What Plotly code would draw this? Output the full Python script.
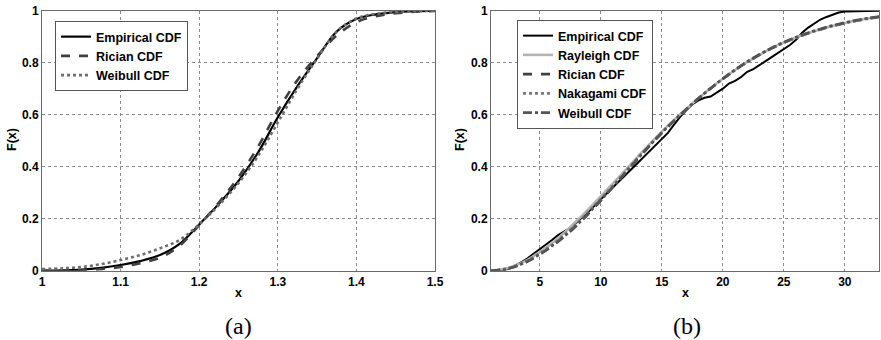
import plotly.graph_objects as go

# ---------------- data: panel (a) ----------------
xa = [1.000, 1.025, 1.050, 1.075, 1.100, 1.125, 1.150, 1.175, 1.200, 1.225, 1.250,
      1.275, 1.300, 1.325, 1.350, 1.375, 1.400, 1.425, 1.450, 1.475, 1.500]
a_empirical = [0.000, 0.001, 0.004, 0.011, 0.022, 0.037, 0.060, 0.103, 0.178, 0.257, 0.345,
               0.455, 0.590, 0.710, 0.818, 0.920, 0.968, 0.986, 0.994, 0.998, 1.000]
a_rician = [0.000, 0.000, 0.002, 0.006, 0.014, 0.029, 0.050, 0.096, 0.175, 0.262, 0.360,
            0.478, 0.615, 0.733, 0.825, 0.905, 0.956, 0.979, 0.990, 0.996, 0.999]
a_weibull = [0.006, 0.009, 0.014, 0.025, 0.041, 0.060, 0.086, 0.118, 0.178, 0.252, 0.337,
             0.442, 0.570, 0.700, 0.815, 0.920, 0.970, 0.988, 0.995, 0.998, 1.000]

# ---------------- data: panel (b) ----------------
xb_emp = [1.0, 1.5, 2.0, 2.5, 3.0, 3.5, 4.0, 4.5, 5.0, 5.5, 6.0, 6.5, 7.0, 7.5, 8.0,
          9.0, 10.0, 11.0, 12.0, 13.0, 14.0, 15.0, 15.5, 16.0, 16.5, 17.0, 17.5, 18.0,
          18.5, 19.0, 19.5, 20.0, 20.5, 21.0, 21.5, 22.0, 22.5, 23.0, 23.5, 24.0, 24.5,
          25.0, 25.5, 26.0, 26.5, 27.0, 27.5, 28.0, 28.5, 29.0, 29.5, 30.0, 31.0, 33.0]
b_empirical = [0.000, 0.000, 0.002, 0.008, 0.020, 0.033, 0.048, 0.065, 0.085, 0.100,
               0.118, 0.137, 0.152, 0.165, 0.185, 0.228, 0.275, 0.320, 0.367, 0.413,
               0.460, 0.508, 0.530, 0.562, 0.592, 0.617, 0.640, 0.655, 0.665, 0.670,
               0.685, 0.700, 0.720, 0.730, 0.745, 0.765, 0.775, 0.790, 0.805, 0.822,
               0.835, 0.850, 0.868, 0.888, 0.915, 0.935, 0.952, 0.966, 0.976, 0.985,
               0.993, 0.997, 0.999, 1.000]

xb_fit = [1, 2, 3, 4, 5, 6, 7, 8, 9, 10, 11, 12, 13, 14, 15, 16, 17, 18, 19, 20, 21,
          22, 23, 24, 25, 26, 27, 28, 29, 30, 31, 32, 33]
b_rayleigh = [0.000, 0.006, 0.020, 0.042, 0.072, 0.106, 0.146, 0.190, 0.237, 0.286,
              0.336, 0.386, 0.437, 0.487, 0.535, 0.580, 0.622, 0.663, 0.702, 0.738,
              0.772, 0.803, 0.830, 0.856, 0.878, 0.897, 0.914, 0.929, 0.942, 0.953,
              0.963, 0.971, 0.978]
b_rician = [0.000, 0.004, 0.016, 0.036, 0.063, 0.094, 0.131, 0.173, 0.220, 0.270,
            0.322, 0.375, 0.428, 0.480, 0.529, 0.576, 0.620, 0.662, 0.701, 0.737,
            0.771, 0.802, 0.830, 0.855, 0.877, 0.896, 0.913, 0.928, 0.941, 0.952,
            0.962, 0.970, 0.977]
b_nakagami = [0.000, 0.005, 0.018, 0.039, 0.067, 0.099, 0.138, 0.180, 0.227, 0.277,
              0.328, 0.380, 0.432, 0.483, 0.532, 0.578, 0.621, 0.662, 0.701, 0.737,
              0.771, 0.802, 0.830, 0.855, 0.877, 0.896, 0.913, 0.928, 0.941, 0.952,
              0.962, 0.970, 0.977]
b_weibull = [0.000, 0.004, 0.016, 0.036, 0.063, 0.095, 0.132, 0.174, 0.221, 0.271,
             0.323, 0.376, 0.429, 0.481, 0.530, 0.577, 0.621, 0.663, 0.702, 0.739,
             0.773, 0.804, 0.832, 0.857, 0.879, 0.898, 0.915, 0.930, 0.943, 0.954,
             0.964, 0.972, 0.979]

# ---------------- ticks ----------------
a_xticks = [1.0, 1.1, 1.2, 1.3, 1.4, 1.5]
a_xticklabels = ["1", "1.1", "1.2", "1.3", "1.4", "1.5"]
b_xticks = [5, 10, 15, 20, 25, 30]
b_xticklabels = ["5", "10", "15", "20", "25", "30"]
yticks = [0, 0.2, 0.4, 0.6, 0.8, 1]
yticklabels = ["0", "0.2", "0.4", "0.6", "0.8", "1"]

BOLD = "Liberation Sans"
W, H = 881, 340

fig = go.Figure()

# panel (a)
fig.add_trace(go.Scatter(x=xa, y=a_empirical, mode="lines", name="<b>Empirical CDF</b>",
                         line=dict(color="#000000", width=2.2, shape="spline", smoothing=1.0),
                         xaxis="x", yaxis="y", legend="legend"))
fig.add_trace(go.Scatter(x=xa, y=a_rician, mode="lines", name="<b>Rician CDF</b>",
                         line=dict(color="#404040", width=2.6, dash="dash", shape="spline", smoothing=1.0),
                         xaxis="x", yaxis="y", legend="legend"))
fig.add_trace(go.Scatter(x=xa, y=a_weibull, mode="lines", name="<b>Weibull CDF</b>",
                         line=dict(color="#6e6e6e", width=2.6, dash="dot", shape="spline", smoothing=1.0),
                         xaxis="x", yaxis="y", legend="legend"))

# panel (b)
fig.add_trace(go.Scatter(x=xb_emp, y=b_empirical, mode="lines", name="<b>Empirical CDF</b>",
                         line=dict(color="#000000", width=2),
                         xaxis="x2", yaxis="y2", legend="legend2"))
fig.add_trace(go.Scatter(x=xb_fit, y=b_rayleigh, mode="lines", name="<b>Rayleigh CDF</b>",
                         line=dict(color="#b4b4b4", width=2.6, shape="spline"),
                         xaxis="x2", yaxis="y2", legend="legend2"))
fig.add_trace(go.Scatter(x=xb_fit, y=b_rician, mode="lines", name="<b>Rician CDF</b>",
                         line=dict(color="#404040", width=2.6, dash="dash", shape="spline"),
                         xaxis="x2", yaxis="y2", legend="legend2"))
fig.add_trace(go.Scatter(x=xb_fit, y=b_nakagami, mode="lines", name="<b>Nakagami CDF</b>",
                         line=dict(color="#7a7a7a", width=2.6, dash="dot", shape="spline"),
                         xaxis="x2", yaxis="y2", legend="legend2"))
fig.add_trace(go.Scatter(x=xb_fit, y=b_weibull, mode="lines", name="<b>Weibull CDF</b>",
                         line=dict(color="#555555", width=2.6, dash="dashdot", shape="spline"),
                         xaxis="x2", yaxis="y2", legend="legend2"))

ydom = [(H - 270.7) / H, (H - 10.7) / H]
axis_common = dict(showline=True, mirror=True, linecolor="#6a6a6a", linewidth=1,
                   showgrid=True, gridcolor="#8c8c8c", griddash="dot", gridwidth=1,
                   zeroline=False, ticks="", ticklen=0, automargin=False,
                   tickfont=dict(family=BOLD, size=12, color="#000000"))

fig.update_layout(
    template="none",
    width=W, height=H,
    margin=dict(l=0, r=0, t=0, b=0, autoexpand=False),
    paper_bgcolor="white", plot_bgcolor="white",
    font=dict(family=BOLD, color="#000000"),
    xaxis=dict(domain=[42 / W, 435 / W], range=[1, 1.5], anchor="y",
               tickvals=a_xticks, ticktext=["<b>%s</b>" % t for t in a_xticklabels],
               **axis_common),
    yaxis=dict(domain=ydom, range=[0, 1], anchor="x",
               tickvals=yticks, ticktext=["<b>%s</b>" % t for t in yticklabels],
               **axis_common),
    xaxis2=dict(domain=[491 / W, 879 / W], range=[1, 32.8], anchor="y2",
                tickvals=b_xticks, ticktext=["<b>%s</b>" % t for t in b_xticklabels],
                **axis_common),
    yaxis2=dict(domain=ydom, range=[0, 1], anchor="x2",
                tickvals=yticks, ticktext=["<b>%s</b>" % t for t in yticklabels],
                **axis_common),
    legend=dict(x=55 / W, y=1 - 21 / H, xanchor="left", yanchor="top",
                bgcolor="white", bordercolor="#555555", borderwidth=1,
                font=dict(family=BOLD, size=12.5, color="#000000"),
                tracegroupgap=0, itemwidth=30),
    legend2=dict(x=517 / W, y=1 - 20 / H, xanchor="left", yanchor="top",
                 bgcolor="white", bordercolor="#555555", borderwidth=1,
                 font=dict(family=BOLD, size=12.5, color="#000000"),
                 tracegroupgap=0, itemwidth=30),
    showlegend=True,
)

def note(text, px, py, size, family=BOLD, angle=0):
    return dict(text=text, x=px / W, y=1 - py / H, xref="paper", yref="paper",
                xanchor="center", yanchor="middle", showarrow=False, textangle=angle,
                font=dict(family=family, size=size, color="#000000"))

annotations = [
    note("<b>x</b>", 238.5, 293, 12.5),
    note("<b>x</b>", 685, 293, 12.5),
    note("<b>F(x)</b>", 12, 140, 12.5, angle=-90),
    note("<b>F(x)</b>", 460, 140, 12.5, angle=-90),
    note("(a)", 238, 326, 24, family="Liberation Serif"),
    note("(b)", 687, 326, 24, family="Liberation Serif"),
]
fig.update_layout(annotations=annotations)

fig.write_html("out.html", config={"displayModeBar": False},
               post_script="document.body.style.margin='0px';document.body.style.overflow='hidden';")
